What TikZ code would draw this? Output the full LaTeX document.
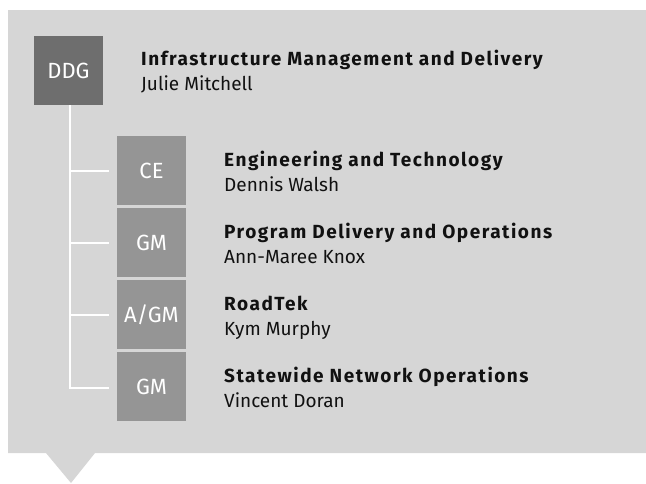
\documentclass[tikz,border=0pt]{standalone}
\usepackage{fontspec}
\setmainfont{Fira Sans}
\newfontfamily\titlefont[LetterSpace=8]{Fira Sans}
\definecolor{bggray}{HTML}{D6D6D6}
\definecolor{topbox}{HTML}{6E6E6E}
\definecolor{subbox}{HTML}{959595}
\definecolor{txt}{HTML}{111111}
\begin{document}
\begin{tikzpicture}[x=1pt,y=-1pt,
  rolebox/.style={minimum width=69pt,minimum height=69pt,inner sep=0pt,text=white,font=\fontsize{22}{26}\selectfont},
  toprole/.style={rolebox,fill=topbox},
  subrole/.style={rolebox,fill=subbox},
  titletext/.style={anchor=base west,inner sep=0pt,text=txt,font=\titlefont\fontsize{19}{22}\selectfont\bfseries},
  nametext/.style={anchor=base west,inner sep=0pt,text=txt,font=\fontsize{19}{22}\selectfont},
  link/.style={draw=white,line width=2pt}]
\useasboundingbox (0,0) rectangle (646,483);
\fill[bggray] (8,10) -- (646,10) -- (646,453) -- (95,453) -- (71,483) -- (46,453) -- (8,453) -- cycle;

\node[toprole] (ddg) at (68.5,70.5) {DDG};
\node[subrole] (ce) at (151.5,170.5) {CE};
\node[subrole] (gm1) at (151.5,242.5) {GM};
\node[subrole] (agm) at (151.5,314.5) {A/GM};
\node[subrole] (gm2) at (151.5,386.5) {GM};

\node[titletext] (t0) at (141,65) {Infrastructure Management and Delivery};
\node[nametext] (n0) at (141,90) {Julie Mitchell};
\node[titletext] (t1) at (224,166) {Engineering and Technology};
\node[nametext] (n1) at (224,191) {Dennis Walsh};
\node[titletext] (t2) at (224,238) {Program Delivery and Operations};
\node[nametext] (n2) at (224,263) {Ann-Maree Knox};
\node[titletext] (t3) at (224,310) {RoadTek};
\node[nametext] (n3) at (224,335) {Kym Murphy};
\node[titletext] (t4) at (224,382) {Statewide Network Operations};
\node[nametext] (n4) at (224,407) {Vincent Doran};

\coordinate (j1) at (70,170.5);
\coordinate (j2) at (70,242.5);
\coordinate (j3) at (70,314.5);
\coordinate (j4) at (70,387.5);
\coordinate (e1) at (109,170.5);
\coordinate (e2) at (109,242.5);
\coordinate (e3) at (109,314.5);
\coordinate (e4) at (109,387.5);

\draw[link] (ddg.south -| j1) -- (j4);
\draw[link] (j1) -- (e1);
\draw[link] (j2) -- (e2);
\draw[link] (j3) -- (e3);
\draw[link] ([xshift=-1pt]j4) -- (e4);
\end{tikzpicture}
\end{document}
